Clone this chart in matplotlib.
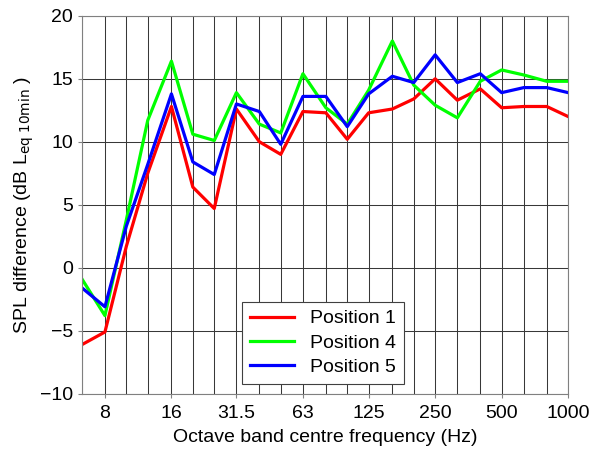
import matplotlib
matplotlib.use('Agg')
import matplotlib.pyplot as plt

plt.rcParams['font.family'] = ['Liberation Sans', 'DejaVu Sans']

# third-octave band centre frequencies (Hz)
freqs = [6.3, 8, 10, 12.5, 16, 20, 25, 31.5, 40, 50, 63, 80, 100,
         125, 160, 200, 250, 315, 400, 500, 630, 800, 1000]
octave_ticks = [8, 16, 31.5, 63, 125, 250, 500, 1000]
octave_labels = ['8', '16', '31.5', '63', '125', '250', '500', '1000']

# SPL difference per position (dB)
pos1 = [-6.1, -5.1, 1.7, 7.5, 12.8, 6.4, 4.7, 12.6, 10.0, 9.0, 12.4, 12.3, 10.2,
        12.3, 12.6, 13.4, 15.0, 13.3, 14.2, 12.7, 12.8, 12.8, 12.0]
pos4 = [-0.9, -3.8, 3.8, 11.7, 16.4, 10.6, 10.1, 13.9, 11.4, 10.7, 15.4, 12.7, 11.4,
        14.1, 18.0, 14.5, 12.9, 11.9, 14.8, 15.7, 15.3, 14.8, 14.8]
pos5 = [-1.6, -3.1, 3.3, 8.2, 13.8, 8.4, 7.4, 13.0, 12.4, 9.8, 13.6, 13.6, 11.2,
        13.8, 15.2, 14.7, 16.9, 14.7, 15.4, 13.9, 14.3, 14.3, 13.9]

fig = plt.figure(figsize=(5.9, 4.51), dpi=100)
ax = fig.add_axes([0.139, 0.127, 0.824, 0.838])

ax.plot(freqs, pos1, color='#ff0000', lw=2.3, label='Position 1')
ax.plot(freqs, pos4, color='#00ff00', lw=2.3, label='Position 4')
ax.plot(freqs, pos5, color='#0000ff', lw=2.3, label='Position 5')

ax.set_xscale('log')
ax.set_xlim(6.3, 1000)
ax.set_ylim(-10, 20)
ax.set_xticks(freqs, minor=True)
ax.set_xticks(octave_ticks)
ax.set_xticklabels(octave_labels)
ax.xaxis.set_minor_formatter(plt.NullFormatter())
ax.set_yticks([-10, -5, 0, 5, 10, 15, 20])
ax.tick_params(axis='both', labelsize=14, length=3, color='#808080')
ax.tick_params(axis='x', pad=5)
ax.tick_params(axis='x', which='minor', length=0)

ax.grid(True, which='both', axis='x', color='#383838', lw=0.75)
ax.grid(True, which='major', axis='y', color='#383838', lw=0.75)
for s in ax.spines.values():
    s.set_color('#808080')

ax.set_xlabel('Octave band centre frequency (Hz)', fontsize=14, labelpad=5)
ax.set_ylabel(r'SPL difference (dB L$_{\mathrm{eq\ 10min}}$ )', fontsize=14, labelpad=3)

leg = ax.legend(loc='lower center', bbox_to_anchor=(0.495, 0.0), fontsize=14,
                fancybox=False, framealpha=1, edgecolor='#404040',
                handlelength=2.3, borderpad=0.4, labelspacing=0.35)
leg.get_frame().set_linewidth(0.8)

fig.savefig('out.png', dpi=100)
